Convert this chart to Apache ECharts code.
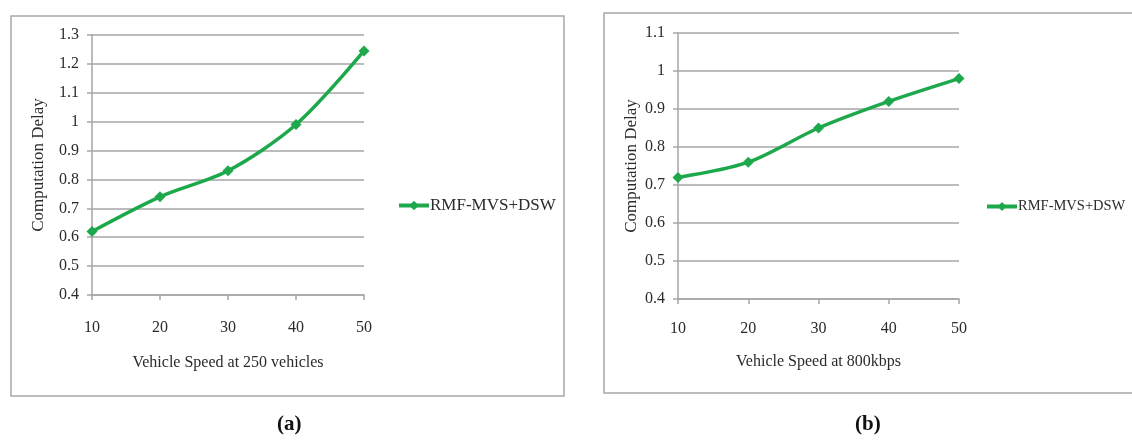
<!DOCTYPE html>
<html>
<head>
<meta charset="utf-8">
<script src="https://cdn.jsdelivr.net/npm/echarts@6/dist/echarts.min.js"></script>
<style>
html,body{margin:0;padding:0;background:#fff;}
#chart{width:1132px;height:441px;}
</style>
</head>
<body>
<div id="chart"></div>
<script>
// ---- data ----
const speedsA = ['10', '20', '30', '40', '50'];
const delayA = [0.62, 0.74, 0.83, 0.99, 1.245];
const speedsB = ['10', '20', '30', '40', '50'];
const delayB = [0.72, 0.76, 0.85, 0.92, 0.98];
const seriesName = 'RMF-MVS+DSW';
const xTitleA = 'Vehicle Speed at 250 vehicles';
const xTitleB = 'Vehicle Speed at 800kbps';
const yTitle = 'Computation Delay';
const captions = ['(a)', '(b)'];

// ---- styles ----
const GREEN = '#1ea84c';
const GRID = '#a6a6a6';
const TXT = '#2b2b2b';
const FONT = '"Liberation Serif", "Times New Roman", serif';

const chart = echarts.init(document.getElementById('chart'), null, {renderer: 'canvas'});

function xAxis(idx, data, name, gap, margin) {
  return {
    type: 'category', gridIndex: idx, data: data, boundaryGap: false,
    name: name, nameLocation: 'middle', nameGap: gap,
    nameTextStyle: {fontFamily: FONT, fontSize: 16, color: TXT},
    axisLine: {lineStyle: {color: GRID, width: 1.5}},
    axisTick: {show: true, length: 5, alignWithLabel: true, lineStyle: {color: GRID, width: 1.5}},
    axisLabel: {fontFamily: FONT, fontSize: 16, color: TXT, margin: margin},
    splitLine: {show: false}
  };
}
function yAxis(idx, max, gap) {
  return {
    type: 'value', gridIndex: idx, min: 0.4, max: max, interval: 0.1,
    name: yTitle, nameLocation: 'middle', nameGap: gap,
    nameTextStyle: {fontFamily: FONT, fontSize: 17, color: TXT},
    axisLine: {show: true, lineStyle: {color: GRID, width: 1.5}},
    axisTick: {show: true, length: 5, lineStyle: {color: GRID, width: 1.5}},
    axisLabel: {fontFamily: FONT, fontSize: 16, color: TXT, margin: 13,
      formatter: v => String(Math.round(v * 10) / 10)},
    splitLine: {show: true, lineStyle: {color: GRID, width: 1.5}}
  };
}
function series(idx, data) {
  return {
    name: seriesName, type: 'line', xAxisIndex: idx, yAxisIndex: idx,
    data: data, smooth: 0.3, symbol: 'diamond', symbolSize: 11,
    lineStyle: {color: GREEN, width: 3.5},
    itemStyle: {color: GREEN},
    emphasis: {disabled: true}, animation: false
  };
}

const option = {
  backgroundColor: '#fff',
  animation: false,
  grid: [
    {left: 92, top: 35, width: 272, height: 260},
    {left: 678, top: 33, width: 281, height: 266}
  ],
  xAxis: [xAxis(0, speedsA, xTitleA, 60, 25), xAxis(1, speedsB, xTitleB, 55, 22)],
  yAxis: [yAxis(0, 1.3, 45), yAxis(1, 1.1, 38)],
  legend: [
    {data: [seriesName], left: 392, top: 192, itemWidth: 30, itemHeight: 12, itemGap: 4,
     lineStyle: {width: 4, color: GREEN}, itemStyle: {color: GREEN},
     textStyle: {fontFamily: FONT, fontSize: 17, color: TXT, padding: [0,0,0,-4]}, selectedMode: false},
    {data: [seriesName], left: 980, top: 194, itemWidth: 30, itemHeight: 11,
     lineStyle: {width: 4, color: GREEN}, itemStyle: {color: GREEN},
     textStyle: {fontFamily: FONT, fontSize: 14.5, color: TXT, padding: [0,0,0,-4]}, selectedMode: false}
  ],
  graphic: [
    {type: 'rect', shape: {x: 11, y: 16, width: 553, height: 380}, style: {fill: 'none', stroke: '#a8a8a8', lineWidth: 1.5}, z: -1},
    {type: 'rect', shape: {x: 604, y: 13, width: 540, height: 380}, style: {fill: 'none', stroke: '#a8a8a8', lineWidth: 1.5}, z: -1},
    {type: 'text', left: 277, top: 414, style: {text: captions[0], font: 'bold 21px "Liberation Serif", serif', fill: '#111'}},
    {type: 'text', left: 855, top: 414, style: {text: captions[1], font: 'bold 21px "Liberation Serif", serif', fill: '#111'}}
  ],
  series: [series(0, delayA), series(1, delayB)]
};
chart.setOption(option);
</script>
</body>
</html>
